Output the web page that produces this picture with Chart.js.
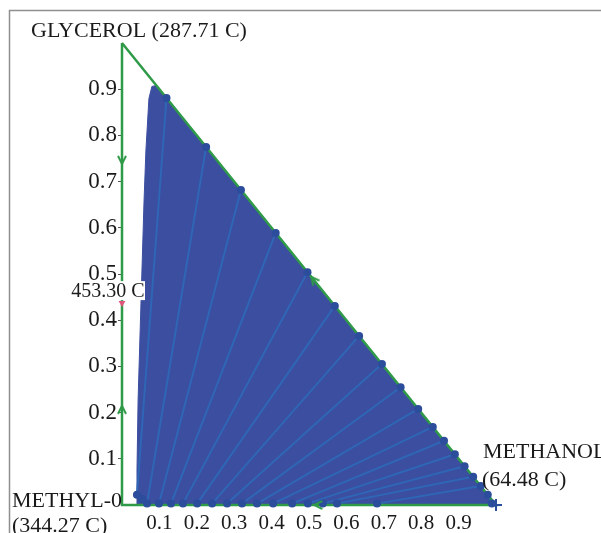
<!DOCTYPE html>
<html>
<head>
<meta charset="utf-8">
<title>Ternary map</title>
<script src="https://cdn.jsdelivr.net/npm/chart.js@4.4.1/dist/chart.umd.min.js"></script>
<style>
  html, body { margin: 0; padding: 0; background: #fff; }
  #wrap { width: 601px; height: 533px; }
</style>
</head>
<body>
<div id="wrap"><canvas id="ternary" width="601" height="533"></canvas></div>
<script>
// tie lines: end on the glycerol/methanol edge ...
const tieTopX = [0.119, 0.225, 0.318, 0.411, 0.496, 0.569, 0.634, 0.695, 0.745, 0.792, 0.831, 0.861, 0.890, 0.916, 0.939, 0.959, 0.978];
const tieTopY = [0.881, 0.775, 0.682, 0.589, 0.504, 0.431, 0.366, 0.305, 0.255, 0.208, 0.169, 0.139, 0.110, 0.084, 0.061, 0.041, 0.022];
// ... and the other end along the bottom edge
const tieBotX = [0.040, 0.067, 0.099, 0.131, 0.163, 0.201, 0.241, 0.281, 0.321, 0.361, 0.404, 0.455, 0.497, 0.537, 0.575, 0.682, 0.989];
const tieBotY = [0.022, 0.003, 0.003, 0.003, 0.003, 0.003, 0.003, 0.003, 0.003, 0.003, 0.003, 0.003, 0.003, 0.003, 0.003, 0.003, 0.003];
const extraDotX = [0.054];
const extraDotY = [0.013];

// left side of the two-liquid region, bottom to top
const envX = [0.040, 0.0401, 0.043, 0.051, 0.059, 0.064, 0.072, 0.080, 0.092];
const envY = [0.000, 0.076, 0.227, 0.444, 0.660, 0.768, 0.880, 0.906, 0.908];

// azeotrope
const azeoX = [0];
const azeoY = [0.437];

// direction arrows on the edges
const arrowX = [0, 0, 0.513, 0.525];
const arrowY = [0.747, 0.206, 0.487, 0];
const arrowRot = [180, 0, -39, -90];

const xTickLabels = ['0.1', '0.2', '0.3', '0.4', '0.5', '0.6', '0.7', '0.8', '0.9'];
const yTickLabels = ['0.1', '0.2', '0.3', '0.4', '0.5', '0.6', '0.7', '0.8', '0.9'];

const GREEN = '#2f9a48';
const FILL = '#3b4ea0';
const TIE = '#2f66b5';
const DOT = '#2c4c9c';
const SERIF = '"Liberation Serif", "Times New Roman", serif';

function chevron(color) {
    const c = document.createElement('canvas');
    c.width = 12; c.height = 12;
    const g = c.getContext('2d');
    g.strokeStyle = color;
    g.lineWidth = 2;
    g.beginPath();
    g.moveTo(2, 10); g.lineTo(6, 2); g.lineTo(10, 10);
    g.stroke();
    return c;
}

const pts = (xs, ys) => xs.map((x, i) => ({ x: x, y: ys[i] }));

const envelope = pts(envX, envY).concat(pts(tieTopX, tieTopY)).concat([{ x: 1, y: 0 }]);

const tieSets = tieTopX.map((x, i) => ({
    data: [{ x: tieBotX[i], y: tieBotY[i] }, { x: x, y: tieTopY[i] }],
    borderColor: TIE,
    borderWidth: 2,
    pointRadius: 0,
    fill: false,
    clip: false,
    order: 5
}));

const annotations = {
    id: 'annotations',
    afterDatasetsDraw(chart) {
        const { ctx, scales: { x, y } } = chart;
        ctx.save();
        // 453.30 C label with white box
        const ax = x.getPixelForValue(azeoX[0]);
        const ay = y.getPixelForValue(azeoY[0]);
        ctx.fillStyle = '#fff';
        ctx.fillRect(ax - 54, ay - 22, 77, 19);
        ctx.fillStyle = '#1a1a1a';
        ctx.font = '20px ' + SERIF;
        ctx.textAlign = 'center';
        ctx.textBaseline = 'alphabetic';
        ctx.fillText('453.30 C', ax - 14, ay - 6);
        ctx.restore();
    },
    afterDraw(chart) {
        const { ctx } = chart;
        ctx.save();
        ctx.strokeStyle = '#8f8f8f';
        ctx.lineWidth = 1.5;
        ctx.beginPath();
        ctx.moveTo(9.5, 533); ctx.lineTo(9.5, 10.5); ctx.lineTo(601, 10.5);
        ctx.stroke();
        ctx.fillStyle = '#1a1a1a';
        ctx.font = '22px ' + SERIF;
        ctx.textBaseline = 'alphabetic';
        ctx.textAlign = 'left';
        ctx.fillText('GLYCEROL (287.71 C)', 31, 37);
        ctx.fillText('METHANOL', 483, 458);
        ctx.fillText('(64.48 C)', 482, 486);
        ctx.fillText('(344.27 C)', 12, 532);
        ctx.textAlign = 'right';
        ctx.fillText('METHYL-0', 122, 507);
        ctx.restore();
    }
};

new Chart(document.getElementById('ternary'), {
    type: 'line',
    data: {
        datasets: [
            {
                data: envelope,
                borderColor: FILL,
                backgroundColor: FILL,
                borderWidth: 1,
                pointRadius: 0,
                fill: 'origin',
                clip: false,
                order: 10
            },
            ...tieSets,
            {
                data: [{ x: 0, y: 1 }, { x: 0, y: 0 }, { x: 1, y: 0 }, { x: 0, y: 1 }],
                borderColor: GREEN,
                borderWidth: 2.5,
                borderJoinStyle: 'miter',
                pointRadius: 0,
                fill: false,
                clip: false,
                order: 3
            },
            {
                data: pts(tieTopX, tieTopY).concat(pts(tieBotX, tieBotY)).concat(pts(extraDotX, extraDotY)),
                showLine: false,
                pointRadius: 4,
                pointBackgroundColor: DOT,
                pointBorderWidth: 0,
                clip: false,
                order: 2
            },
            {
                data: [{ x: 1, y: 0 }],
                showLine: false,
                pointStyle: 'cross',
                pointRadius: 6,
                pointBorderColor: DOT,
                pointBorderWidth: 2,
                clip: false,
                order: 2
            },
            {
                data: pts(arrowX, arrowY),
                showLine: false,
                pointStyle: chevron(GREEN),
                pointRotation: arrowRot,
                clip: false,
                order: 1
            },
            {
                data: pts(azeoX, azeoY),
                showLine: false,
                pointStyle: 'triangle',
                pointRotation: 180,
                pointRadius: 4,
                pointBackgroundColor: '#e2557d',
                pointBorderWidth: 0,
                clip: false,
                order: 1
            }
        ]
    },
    options: {
        responsive: false,
        animation: false,
        events: [],
        layout: { padding: { top: 43, right: 105, left: 0, bottom: 0 } },
        plugins: { legend: { display: false }, tooltip: { enabled: false } },
        scales: {
            x: {
                type: 'linear',
                min: 0,
                max: 1,
                border: { display: false },
                grid: { display: false, drawTicks: false },
                ticks: {
                    stepSize: 0.1,
                    autoSkip: false,
                    maxRotation: 0,
                    padding: 6,
                    color: '#1a1a1a',
                    font: { family: SERIF, size: 21 },
                    callback: (v, i) => xTickLabels[i - 1] ?? ''
                },
                afterFit: (s) => { s.height = 28; }
            },
            y: {
                type: 'linear',
                min: 0,
                max: 1,
                border: { display: false },
                grid: {
                    drawOnChartArea: false,
                    drawTicks: true,
                    tickLength: 4,
                    color: (c) => (c.tick && c.tick.value > 0.05 && c.tick.value < 0.95) ? '#555' : 'rgba(0,0,0,0)'
                },
                ticks: {
                    stepSize: 0.1,
                    autoSkip: false,
                    padding: 1,
                    color: '#1a1a1a',
                    font: { family: SERIF, size: 23 },
                    callback: (v, i) => yTickLabels[i - 1] ?? ''
                },
                afterFit: (s) => { s.width = 122; }
            }
        }
    },
    plugins: [annotations]
});
</script>
</body>
</html>
